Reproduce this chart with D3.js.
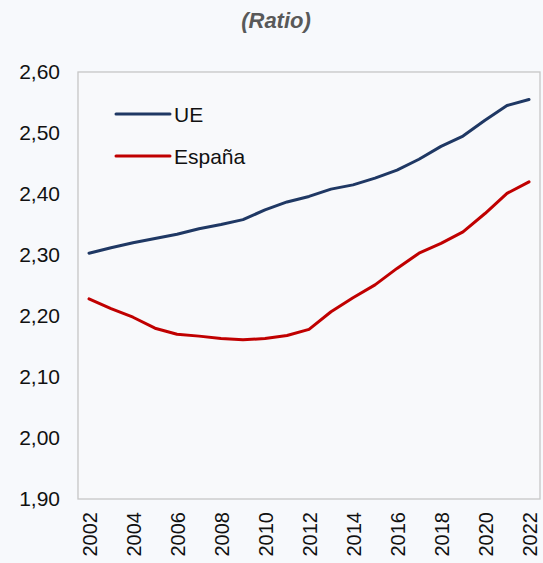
<!DOCTYPE html>
<html><head><meta charset="utf-8">
<script src="https://cdn.jsdelivr.net/npm/d3@7/dist/d3.min.js"></script>
<style>html,body{margin:0;padding:0;background:#f7f9fc;}svg{display:block;}</style>
</head><body><svg id="c" width="543" height="563"></svg>
<script>
const years = d3.range(2002, 2023);
const ue = [2.303,2.312,2.320,2.327,2.334,2.343,2.350,2.358,2.374,2.387,2.396,2.408,2.415,2.426,2.439,2.457,2.478,2.495,2.521,2.545,2.555];
const espana = [2.228,2.212,2.198,2.180,2.170,2.167,2.163,2.161,2.163,2.168,2.178,2.207,2.230,2.251,2.278,2.303,2.319,2.338,2.368,2.401,2.420];
const yTicks = [1.90,2.00,2.10,2.20,2.30,2.40,2.50,2.60];
const xTickYears = d3.range(2002, 2023, 2);
const seriesNames = ["UE","España"];
const colors = ["#1f3864","#c00000"];

const svg = d3.select("#c");
const L=78,R=540,T=72,B=499;
const x = d3.scalePoint().domain(years).range([L,R]).padding(0.5);
const y = d3.scaleLinear().domain([1.90,2.60]).range([B,T]);
const font = "'Liberation Sans', Arial, sans-serif";
const fs = 21;

svg.append("text").attr("x",276).attr("y",28).attr("text-anchor","middle")
  .attr("font-family",font).attr("font-size",22).attr("font-weight","bold").attr("font-style","italic")
  .attr("fill","#595959").text("(Ratio)");

svg.append("rect").attr("x",L).attr("y",T).attr("width",R-L).attr("height",B-T)
  .attr("fill","#f8f9fb").attr("stroke","#c6c6c6").attr("stroke-width",1.3);

const fmt = d => d3.format(".2f")(d).replace(".",",");
const yAxis = svg.append("g").attr("transform",`translate(${L},0)`)
  .call(d3.axisLeft(y).tickValues(yTicks).tickFormat(fmt).tickSize(0).tickPadding(18));
yAxis.select(".domain").remove();
yAxis.selectAll("text").attr("font-family",font).attr("font-size",fs).attr("fill","#111");

const xAxis = svg.append("g").attr("transform",`translate(0,${B})`)
  .call(d3.axisBottom(x).tickValues(xTickYears).tickSize(0));
xAxis.select(".domain").remove();
xAxis.selectAll("text").attr("font-family",font).attr("font-size",20).attr("fill","#111")
  .attr("text-anchor","end").attr("dx","-13").attr("dy","0.35em").attr("x",0).attr("y",0)
  .attr("transform","rotate(-90)");

const line = d3.line().x((d,i)=>x(years[i])).y(d=>y(d)).curve(d3.curveLinear);
[ue,espana].forEach((s,k)=>{
  svg.append("path").datum(s).attr("d",line).attr("fill","none")
    .attr("stroke",colors[k]).attr("stroke-width",3).attr("stroke-linejoin","round").attr("stroke-linecap","round");
});

const lg = [114,156];
seriesNames.forEach((n,k)=>{
  svg.append("line").attr("x1",116).attr("x2",170).attr("y1",lg[k]).attr("y2",lg[k])
    .attr("stroke",colors[k]).attr("stroke-width",3).attr("stroke-linecap","round");
  svg.append("text").attr("x",174).attr("y",lg[k]+7.5).attr("font-family",font).attr("font-size",fs)
    .attr("fill","#111").text(n);
});
</script></body></html>
